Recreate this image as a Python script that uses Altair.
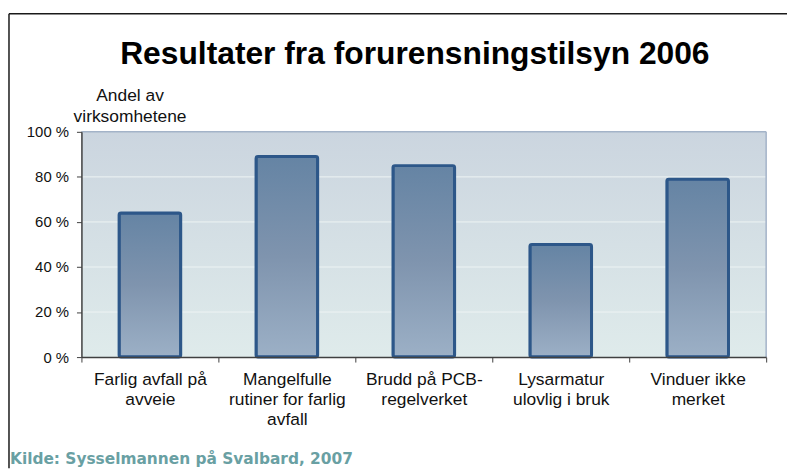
import altair as alt
import pandas as pd

categories = [
    "Farlig avfall på|avveie",
    "Mangelfulle|rutiner for farlig|avfall",
    "Brudd på PCB-|regelverket",
    "Lysarmatur|ulovlig i bruk",
    "Vinduer ikke|merket",
]
values = [64, 89, 85, 50, 79]
y_ticks = [0, 20, 40, 60, 80, 100]
grid_values = [20, 40, 60, 80]
title_text = "Resultater fra forurensningstilsyn 2006"
y_title = ["Andel av", "virksomhetene"]
source_text = "Kilde: Sysselmannen på Svalbard, 2007"

W, H = 690, 227
FONT = "Liberation Sans"

df = pd.DataFrame({"kategori": categories, "andel": values})
one = pd.DataFrame({"t": [0]})

bar_fill = alt.LinearGradient(
    gradient="linear",
    stops=[
        alt.GradientStop(color="#6584a4", offset=0),
        alt.GradientStop(color="#7f94ae", offset=0.5),
        alt.GradientStop(color="#9cb0c6", offset=1),
    ],
    x1=0, x2=0, y1=0, y2=1,
)
bg_fill = alt.LinearGradient(
    gradient="linear",
    stops=[
        alt.GradientStop(color="#cbd5df", offset=0),
        alt.GradientStop(color="#dfebeb", offset=1),
    ],
    x1=0, x2=0, y1=0, y2=1,
)

yscale = alt.Scale(domain=[0, 100], nice=False)
yaxis = alt.Axis(
    title=None,
    values=y_ticks,
    labelExpr="datum.value + ' %'",
    labelFontSize=15,
    labelPadding=8,
    tickSize=5,
    grid=False,
    zindex=1,
)

background = alt.Chart(one).mark_rect(fill=bg_fill).encode(
    x=alt.value(0), x2=alt.value(W), y=alt.value(0), y2=alt.value(H)
)

grid = alt.Chart(pd.DataFrame({"g": grid_values})).mark_rule(
    color="#eef4f4", strokeWidth=1
).encode(
    y=alt.Y("g:Q", scale=yscale, axis=yaxis),
    x=alt.value(0), x2=alt.value(W),
)

bars = alt.Chart(df).mark_bar(
    width=alt.RelativeBandSize(0.45),
    fill=bar_fill,
    stroke="#2d5789",
    strokeWidth=3,
    cornerRadius=2,
).encode(
    x=alt.X(
        "kategori:N",
        sort=None,
        scale=alt.Scale(paddingInner=0, paddingOuter=0),
        axis=alt.Axis(
            title=None,
            labelExpr="split(datum.label, '|')",
            labelAngle=0,
            labelAlign="center",
            labelBaseline="top",
            labelLineHeight=20,
            labelFontSize=17.5,
            labelPadding=9,
            labelOverlap=False,
            tickBand="extent",
            tickSize=5,
            grid=False,
            zindex=1,
        ),
    ),
    y=alt.Y("andel:Q", scale=yscale, axis=yaxis),
)

border_top = alt.Chart(one).mark_rule(color="#a3b3c8", strokeWidth=1.5).encode(
    x=alt.value(0), x2=alt.value(W), y=alt.value(0)
)
border_right = alt.Chart(one).mark_rule(color="#a3b3c8", strokeWidth=1.5).encode(
    x=alt.value(W), y=alt.value(0), y2=alt.value(H)
)

title = alt.Chart(pd.DataFrame({"t": [title_text]})).mark_text(
    font=FONT, fontSize=32, fontWeight="bold", align="center",
    baseline="alphabetic", color="#000000",
).encode(x=alt.value(336), y=alt.value(-68), text="t:N")

ytitle = alt.Chart(one).mark_text(
    text=y_title, font=FONT, fontSize=17.5, align="center",
    baseline="alphabetic", lineHeight=21, color="#111111",
).encode(x=alt.value(49), y=alt.value(-31))

source = alt.Chart(pd.DataFrame({"t": [source_text]})).mark_text(
    font="DejaVu Sans", fontSize=15.5, fontWeight="bold", align="left",
    baseline="alphabetic", color="#69a0a3",
).encode(x=alt.value(-72), y=alt.value(335), text="t:N")

frame_left = alt.Chart(one).mark_rule(color="#1a1a1a", strokeWidth=1.5).encode(
    x=alt.value(-73), y=alt.value(-119), y2=alt.value(339)
)
frame_top = alt.Chart(one).mark_rule(color="#1a1a1a", strokeWidth=1.5).encode(
    x=alt.value(-73), x2=alt.value(711), y=alt.value(-119)
)

chart = alt.layer(
    background, grid, bars, border_top, border_right,
    title, ytitle, source, frame_left, frame_top,
).properties(
    width=W,
    height=H,
    padding={"left": 74, "top": 123, "right": 21, "bottom": 112},
    autosize=alt.AutoSizeParams(type="none"),
    background="white",
).configure_view(
    stroke=None
).configure_axis(
    labelFont=FONT,
    labelColor="#111111",
    domainColor="#404040",
    domainWidth=1.5,
    tickColor="#404040",
    tickWidth=1,
)

chart.save("out.html", embed_options={"renderer": "svg", "actions": False})
